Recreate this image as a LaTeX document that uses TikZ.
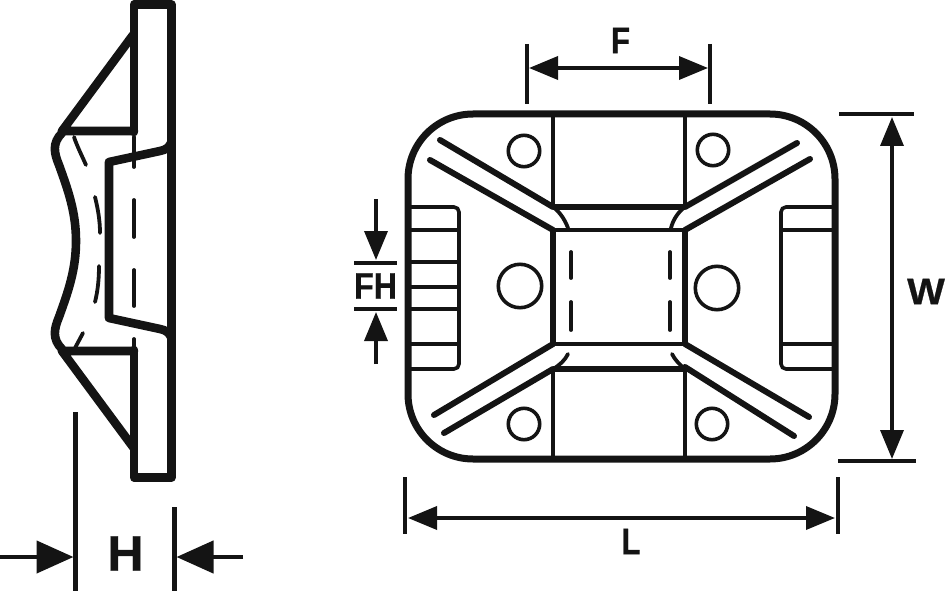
\documentclass[tikz,border=0pt]{standalone}
\usepackage{fontspec}
\setmainfont{Liberation Sans}
\newfontfamily\dimfont[FakeBold=0.6]{Liberation Sans Bold}
\usetikzlibrary{arrows.meta}
\definecolor{ink}{HTML}{141414}
\tikzset{
	wall/.style={line width=8.6pt, draw=ink, line cap=round, line join=round},
	rim/.style={line width=7pt, draw=ink, line join=round},
	rib/.style={line width=6pt, draw=ink, line cap=round},
	edge/.style={line width=3.6pt, draw=ink},
	hidden/.style={line width=3.8pt, draw=ink, line cap=round},
	dim/.style={line width=3.6pt, draw=ink},
	dimarrow/.style={dim, -{Triangle[length=29pt, width=23pt]}},
	dimboth/.style={dim, {Triangle[length=29pt, width=23pt]}-{Triangle[length=29pt, width=23pt]}},
	hdim/.style={line width=4.4pt, draw=ink},
	hdimarrow/.style={hdim, -{Triangle[length=37pt, width=32pt]}},
	dimtext/.style={text=ink, font=\fontsize{37}{37}\selectfont\dimfont, inner sep=0pt}
}
\begin{document}
\begin{tikzpicture}[x=1pt, y=-1pt]
	\useasboundingbox (0, 0) rectangle (945, 591);
	% side view
	\draw[wall] (134, 132) -- (134, 4.5) -- (171.5, 4.5) -- (171.5, 477.5) -- (134, 477.5) -- (134, 350);
	\draw[wall] (133, 35) -- (62, 131) -- (134, 131);
	\draw[wall] (133, 447) -- (62, 351) -- (134, 351);
	\draw[wall] (62, 133) .. controls (52, 143) and (54, 153) .. (59, 165)
	.. controls (68, 190) and (76, 212) .. (76, 241)
	.. controls (76, 270) and (68, 292) .. (59, 317)
	.. controls (54, 329) and (52, 339) .. (62, 349);
	\draw[wall] (171, 143) .. controls (169, 147) and (166, 150) .. (160, 151) -- (109, 162) -- (109, 318) -- (160, 329) .. controls (166, 330) and (169, 333) .. (171, 337);
	\foreach \ya/\yb in {137/167, 200/237, 270/306, 339/350} {
		\draw[hidden] (134, \ya) -- (134, \yb);
	}
	\draw[hidden] (74, 137) .. controls (77, 146) and (82, 156) .. (86, 165);
	\draw[hidden] (95, 197) .. controls (98, 209) and (100, 221) .. (100, 233);
	\draw[hidden] (99, 266) .. controls (99, 278) and (98, 290) .. (95, 302);
	\draw[hidden] (83, 333) -- (75, 348);
	% H
	\coordinate (hl) at (75.5, 412);
	\coordinate (hlb) at (75.5, 591);
	\coordinate (hr) at (174.5, 507);
	\coordinate (hrb) at (174.5, 591);
	\coordinate (hla) at (0, 557);
	\coordinate (hra) at (243, 557);
	\draw[hdim] (hl) -- (hlb);
	\draw[hdim] (hr) -- (hrb);
	\draw[hdimarrow] (hla) -- (73.5, 557);
	\draw[hdimarrow] (hra) -- (176.5, 557);
	\node[dimtext, font=\fontsize{50}{50}\selectfont\dimfont] (hlabel) at (125.5, 553.5) {H};
	% front view
	\draw[rim, rounded corners=65pt] (408, 114) rectangle (835, 459);
	\draw[edge, rounded corners=5pt] (408, 207) -- (459, 207) -- (459, 369) -- (408, 369);
	\draw[edge, rounded corners=5pt] (832, 207) -- (781, 207) -- (781, 369) -- (832, 369);
	\foreach \y in {230, 262, 287, 309, 344} {
		\draw[edge] (408, \y) -- (459, \y);
	}
	\foreach \y in {230, 344} {
		\draw[edge] (781, \y) -- (832, \y);
	}
	\foreach \x in {553, 685} {
		\draw[edge] (\x, 114) -- (\x, 207);
		\draw[edge] (\x, 369) -- (\x, 459);
		\draw[line width=6.5pt, draw=ink] (\x, 228) -- (\x, 346);
	}
	\draw[line width=6pt, draw=ink] (553, 207) -- (685, 207);
	\draw[line width=6pt, draw=ink] (553, 369) -- (685, 369);
	\draw[edge] (553, 230) -- (685, 230);
	\draw[edge] (553, 344) -- (685, 344);
	% ribs
	\draw[rib] (440, 140) -- (553, 207);
	\draw[rib] (430, 160) -- (553, 230);
	\draw[rib] (797, 143) -- (685, 207);
	\draw[rib] (810, 159) -- (685, 230);
	\draw[rib] (434, 415) -- (553, 344);
	\draw[rib] (444, 433) -- (553, 369);
	\draw[rib] (809, 417) -- (685, 344);
	\draw[rib] (794, 436) -- (685, 367);
	\draw[hidden] (553, 207) .. controls (560, 212) and (565, 220) .. (568, 228);
	\draw[hidden] (685, 207) .. controls (678, 212) and (673, 220) .. (671, 228);
	\draw[hidden] (568, 354) .. controls (565, 360) and (560, 365) .. (553, 369);
	\draw[hidden] (672, 354) .. controls (675, 360) and (680, 365) .. (685, 369);
	% holes
	\foreach \x/\y in {524/151, 713/150, 524/424, 712/424} {
		\draw[edge] (\x, \y) circle (15.7pt);
	}
	\foreach \x/\y in {520/286, 717/288} {
		\draw[edge] (\x, \y) circle (21.7pt);
	}
	\foreach \x in {571, 670} {
		\draw[hidden] (\x, 252) -- (\x, 278);
		\draw[hidden] (\x, 302) -- (\x, 330);
	}
	% F
	\coordinate (fl) at (527, 44);
	\coordinate (flb) at (527, 104);
	\coordinate (fr) at (710, 44);
	\coordinate (frb) at (710, 104);
	\draw[dim] (fl) -- (flb);
	\draw[dim] (fr) -- (frb);
	\draw[dimboth] (529, 68) -- (708, 68);
	\node[dimtext, xscale=0.85] (flabel) at (620.5, 40.5) {F};
	% L
	\coordinate (ll) at (405, 477);
	\coordinate (llb) at (405, 534);
	\coordinate (lr) at (838, 477);
	\coordinate (lrb) at (838, 534);
	\draw[dim] (ll) -- (llb);
	\draw[dim] (lr) -- (lrb);
	\draw[dimboth] (408, 518) -- (835, 518);
	\node[dimtext, xscale=0.85] (llabel) at (631, 541.5) {L};
	% W
	\coordinate (wt) at (839, 114);
	\coordinate (wtr) at (914, 114);
	\coordinate (wb) at (838, 461);
	\coordinate (wbr) at (916, 461);
	\draw[dim] (wt) -- (wtr);
	\draw[dim] (wb) -- (wbr);
	\draw[dimboth] (892, 117) -- (892, 459);
	\node[dimtext, xscale=1.08] (wlabel) at (926, 291.5) {W};
	% FH
	\coordinate (fht) at (354, 263);
	\coordinate (fhtr) at (397, 263);
	\coordinate (fhb) at (354, 309);
	\coordinate (fhbr) at (397, 309);
	\coordinate (fha) at (376, 199);
	\coordinate (fhc) at (376, 364);
	\draw[dim] (fht) -- (fhtr);
	\draw[dim] (fhb) -- (fhbr);
	\draw[dimarrow] (fha) -- (376, 260);
	\draw[dimarrow] (fhc) -- (376, 312);
	\node[dimtext, xscale=0.87] (fhlabel) at (375.5, 286) {FH};
\end{tikzpicture}
\end{document}
